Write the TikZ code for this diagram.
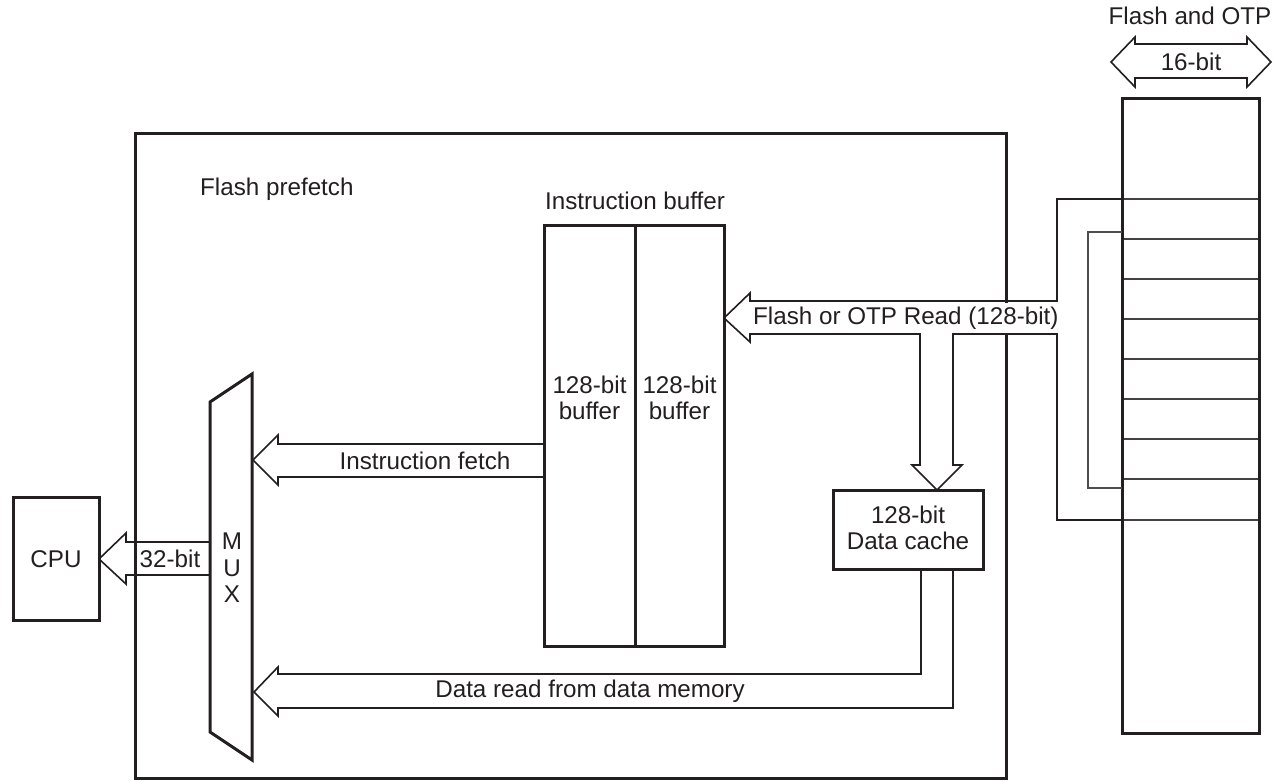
\documentclass[tikz,border=0pt]{standalone}
\usepackage{fontspec}
\setmainfont{Liberation Sans}
\definecolor{ink}{RGB}{35,31,32}
\begin{document}
\begin{tikzpicture}[x=1pt,y=-1pt,
  thickbox/.style={draw=ink, line width=3pt, inner sep=0pt, outer sep=0pt, fill=white},
  thinln/.style={draw=ink, line width=1.6pt, line join=miter},
  rowln/.style={draw=ink!85, line width=1.4pt},
  lbl/.style={font=\fontsize{24.2}{26}\selectfont, text=ink, inner sep=0pt, align=center}]
\useasboundingbox (0,0) rectangle (1273,780);

% outer prefetch box
\node[thickbox, minimum width=871pt, minimum height=645pt] (pf) at (570.5,455.5) {};
\node[lbl, anchor=west] (pflbl) at (200,189) {Flash prefetch};

% instruction buffers
\node[thickbox, minimum width=91pt, minimum height=421pt] (bufA) at (589.5,435.5) {};
\node[thickbox, minimum width=89pt, minimum height=421pt] (bufB) at (679.5,435.5) {};
\node[lbl] (bufAl) at (589.5,398) {128-bit\\buffer};
\node[lbl] (bufBl) at (679.5,398) {128-bit\\buffer};
\node[lbl] (iblbl) at (635,201) {Instruction buffer};

% data cache
\node[thickbox, minimum width=150pt, minimum height=79pt] (cache) at (908,529.5) {};
\node[lbl] (cachel) at (908,528) {128-bit\\Data cache};

% CPU
\node[thickbox, minimum width=86pt, minimum height=123pt] (cpu) at (56,558.5) {};
\node[lbl] (cpul) at (56,559) {CPU};

% MUX
\coordinate (m1) at (210,402);
\coordinate (m2) at (252,374);
\coordinate (m3) at (252,760);
\coordinate (m4) at (210,732);
\draw[draw=ink, line width=3pt, line join=miter] (m1) -- (m2) -- (m3) -- (m4) -- cycle;
\node[lbl, font=\fontsize{24.2}{26.5}\selectfont] (mux) at (232,568) {M\\U\\X};

% Flash and OTP memory
\node[lbl] (flbl) at (1190,16) {Flash and OTP};
\foreach \yy in {199,239,279,319,359,399,439,479,520}
  \draw[rowln] (1122,\yy) -- (1259,\yy);
\node[thickbox, fill=none, minimum width=137pt, minimum height=635pt] (flash) at (1190.5,415.5) {};

% 16-bit double arrow
\draw[thinln, fill=white] (1135,44) -- (1247,44) -- (1247,37) -- (1271,62) -- (1247,87) -- (1247,78)
  -- (1135,78) -- (1135,87) -- (1111,62) -- (1135,37) -- cycle;
\node[lbl] (b16) at (1191,62) {16-bit};

% Flash or OTP read arrow with branch to data cache
\fill[white] (999,303) rectangle (1013,333);
\draw[thinln] (flash.west |- 0,199) -- (1057,199) -- (1057,301) -- (750,301) -- (750,293)
  -- (bufB.east |- 0,318) -- (750,342) -- (750,334) -- (920,334) -- (920,465) -- (912,465)
  -- (cache.north -| 937,0) -- (962,465) -- (953,465) -- (953,334) -- (1057,334) -- (1057,520)
  -- (flash.west |- 0,520);
\node[lbl, anchor=west] (rdlbl) at (753,318) {Flash or OTP Read (128-bit)};

% inner connector
\draw[thinln, draw=ink!80] (flash.west |- 0,232) -- (1088,232) -- (1088,488) -- (flash.west |- 0,488);

% Instruction fetch arrow
\draw[thinln] (bufA.west |- 0,444) -- (278,444) -- (278,435) -- (253,460) -- (278,485) -- (278,477)
  -- (bufA.west |- 0,477);
\node[lbl] (iflbl) at (425,461) {Instruction fetch};

% Data read arrow
\draw[thinln] (cache.south -| 921,0) -- (921,674) -- (278,674) -- (278,667) -- (254,692) -- (278,716)
  -- (278,708) -- (953,708) -- (cache.south -| 953,0);
\node[lbl] (drlbl) at (590,691) {Data read from data memory};

% 32-bit arrow to CPU
\draw[thinln] (m1 |- 0,542) -- (126,542) -- (126,533) -- (cpu.east |- 0,559) -- (126,584) -- (126,575)
  -- (m1 |- 0,575);
\node[lbl] (b32) at (170,559) {32-bit};
\end{tikzpicture}
\end{document}
